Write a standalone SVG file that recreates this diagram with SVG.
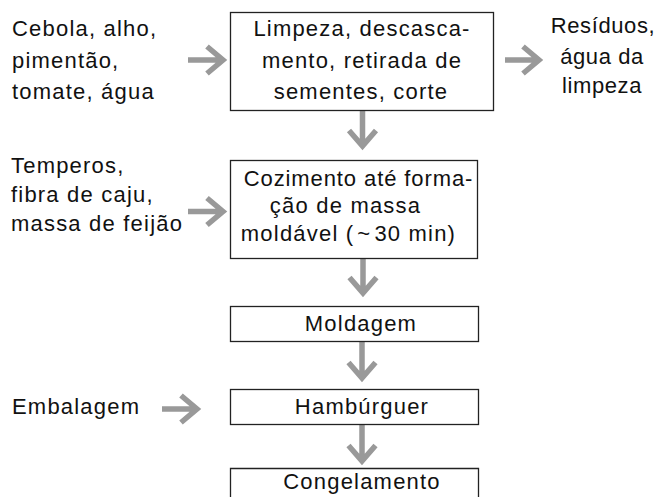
<svg xmlns="http://www.w3.org/2000/svg" width="659" height="497" viewBox="0 0 659 497">
<style>
.box{fill:#fff;stroke:#222;stroke-width:1.3}
.t{font-family:"Liberation Sans",Arial,sans-serif;font-size:22px;fill:#111;letter-spacing:1.2px}
.c{text-anchor:middle}
.arr{fill:none;stroke:#999;stroke-width:5.5;stroke-linejoin:miter;stroke-miterlimit:10}
</style>
<rect width="659" height="497" fill="#fff"/>
<g id="connectors">
<path class="arr" d="M188,60 H223 M207,46.5 L223,60 L207,73.5"/>
<path class="arr" d="M505,60 H539 M523,46.5 L539,60 L523,73.5"/>
<path class="arr" d="M188,211.5 H223 M207,198 L223,211.5 L207,225"/>
<path class="arr" d="M162,409 H197 M181,395.5 L197,409 L181,422.5"/>
<path class="arr" d="M362.5,111 V146 M349,130.5 L362.5,146 L376,130.5"/>
<path class="arr" d="M363,259 V293 M349.5,277.5 L363,293 L376.5,277.5"/>
<path class="arr" d="M362,341 V378 M348.5,362.5 L362,378 L375.5,362.5"/>
<path class="arr" d="M362,424 V461 M348.5,445.5 L362,461 L375.5,445.5"/>
</g>
<g id="in1">
<text class="t" x="12" y="36">Cebola, alho,</text>
<text class="t" x="12" y="67.5">pimentão,</text>
<text class="t" x="12" y="99">tomate, água</text>
</g>
<g id="limpeza">
<rect class="box" x="230.5" y="12.5" width="263" height="98"/>
<text class="t c" x="362" y="36">Limpeza, descasca-</text>
<text class="t c" x="362" y="67.5">mento, retirada de</text>
<text class="t c" x="361" y="99">sementes, corte</text>
</g>
<g id="residuos">
<text class="t c" x="603" y="33" style="letter-spacing:0.6px">Resíduos,</text>
<text class="t c" x="602" y="64" style="letter-spacing:0.6px">água da</text>
<text class="t c" x="602" y="93" style="letter-spacing:0.6px">limpeza</text>
</g>
<g id="in2">
<text class="t" x="11" y="173">Temperos,</text>
<text class="t" x="11" y="202">fibra de caju,</text>
<text class="t" x="11" y="230.5">massa de feijão</text>
</g>
<g id="cozimento">
<rect class="box" x="230.5" y="160.5" width="247" height="98"/>
<text class="t c" x="358.5" y="185.5" style="letter-spacing:0.9px">Cozimento até forma-</text>
<text class="t c" x="345.5" y="213">ção de massa</text>
<text class="t c" x="348.5" y="240.5">moldável (<tspan dx="3">~</tspan><tspan dx="3">30 min)</tspan></text>
</g>
<g id="moldagem">
<rect class="box" x="230.5" y="306.5" width="248" height="35"/>
<text class="t c" x="361" y="330.5">Moldagem</text>
</g>
<g id="embalagem">
<text class="t" x="12" y="414">Embalagem</text>
</g>
<g id="hamburguer">
<rect class="box" x="230.5" y="389.5" width="248" height="35"/>
<text class="t c" x="362" y="413.5">Hambúrguer</text>
</g>
<g id="congelamento">
<path class="box" d="M230.5,497 V468.5 H478.5 V497"/>
<text class="t c" x="362" y="489">Congelamento</text>
</g>
</svg>
